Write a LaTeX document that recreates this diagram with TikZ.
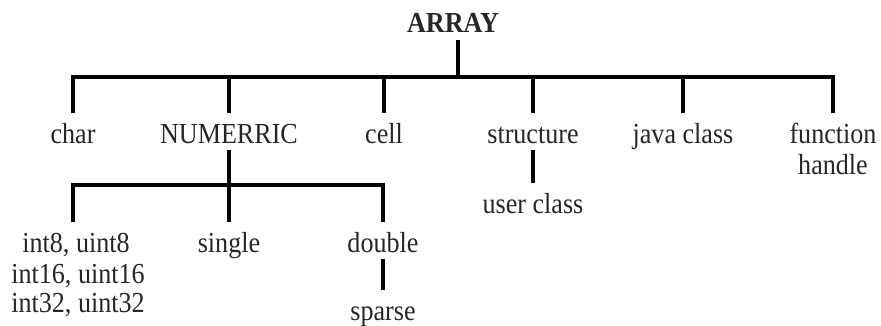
\documentclass[tikz,border=0pt]{standalone}
\usepackage{fontspec}
\setmainfont{Liberation Serif}[FakeStretch=0.9]
\begin{document}
\begin{tikzpicture}[x=1pt,y=-1pt,
  lbl/.style={inner sep=0pt, text height=30pt, text depth=7pt, anchor=base,
    font=\fontsize{29}{30}\selectfont, text=black!85},
  ln/.style={line width=3.2pt, black}]
\useasboundingbox (0,0) rectangle (881,326);
% nodes
\node[lbl, font=\fontsize{29}{30}\selectfont\bfseries] (array) at (453,33) {ARRAY};
\node[lbl] (char) at (73,143) {char};
\node[lbl] (num) at (229,143) {NUMERRIC};
\node[lbl] (cell) at (384,143) {cell};
\node[lbl] (struct) at (533,143) {structure};
\node[lbl] (java) at (683,143) {java class};
\node[lbl] (fh) at (833,143) {function};
\node[lbl] (fh2) at (833,175) {handle};
\node[lbl] (user) at (533,213) {user class};
\node[lbl] (ints) at (76,252) {int8, uint8};
\node[lbl] (ints2) at (78,283) {int16, uint16};
\node[lbl] (ints3) at (78,312) {int32, uint32};
\node[lbl] (single) at (229,252) {single};
\node[lbl] (double) at (383,252) {double};
\node[lbl] (sparse) at (383,320) {sparse};
% bus coordinates
\coordinate (bus1) at (458,77);
\coordinate (bus2) at (229,185);
% connectors
\draw[ln] ([xshift=5pt]array.south) -- (bus1);
\draw[ln] (char.north) |- (bus1) -| (fh.north);
\draw[ln] (num.north) -- (num.north |- bus1);
\draw[ln] (cell.north) -- (cell.north |- bus1);
\draw[ln] (struct.north) -- (struct.north |- bus1);
\draw[ln] (java.north) -- (java.north |- bus1);
\draw[ln] (num.south) -- (single.north);
\draw[ln] ([xshift=-3pt]ints.north) |- (bus2) -| (double.north);
\draw[ln] (struct.south) -- (user.north);
\draw[ln] (double.south) -- (sparse.north);
\end{tikzpicture}
\end{document}
